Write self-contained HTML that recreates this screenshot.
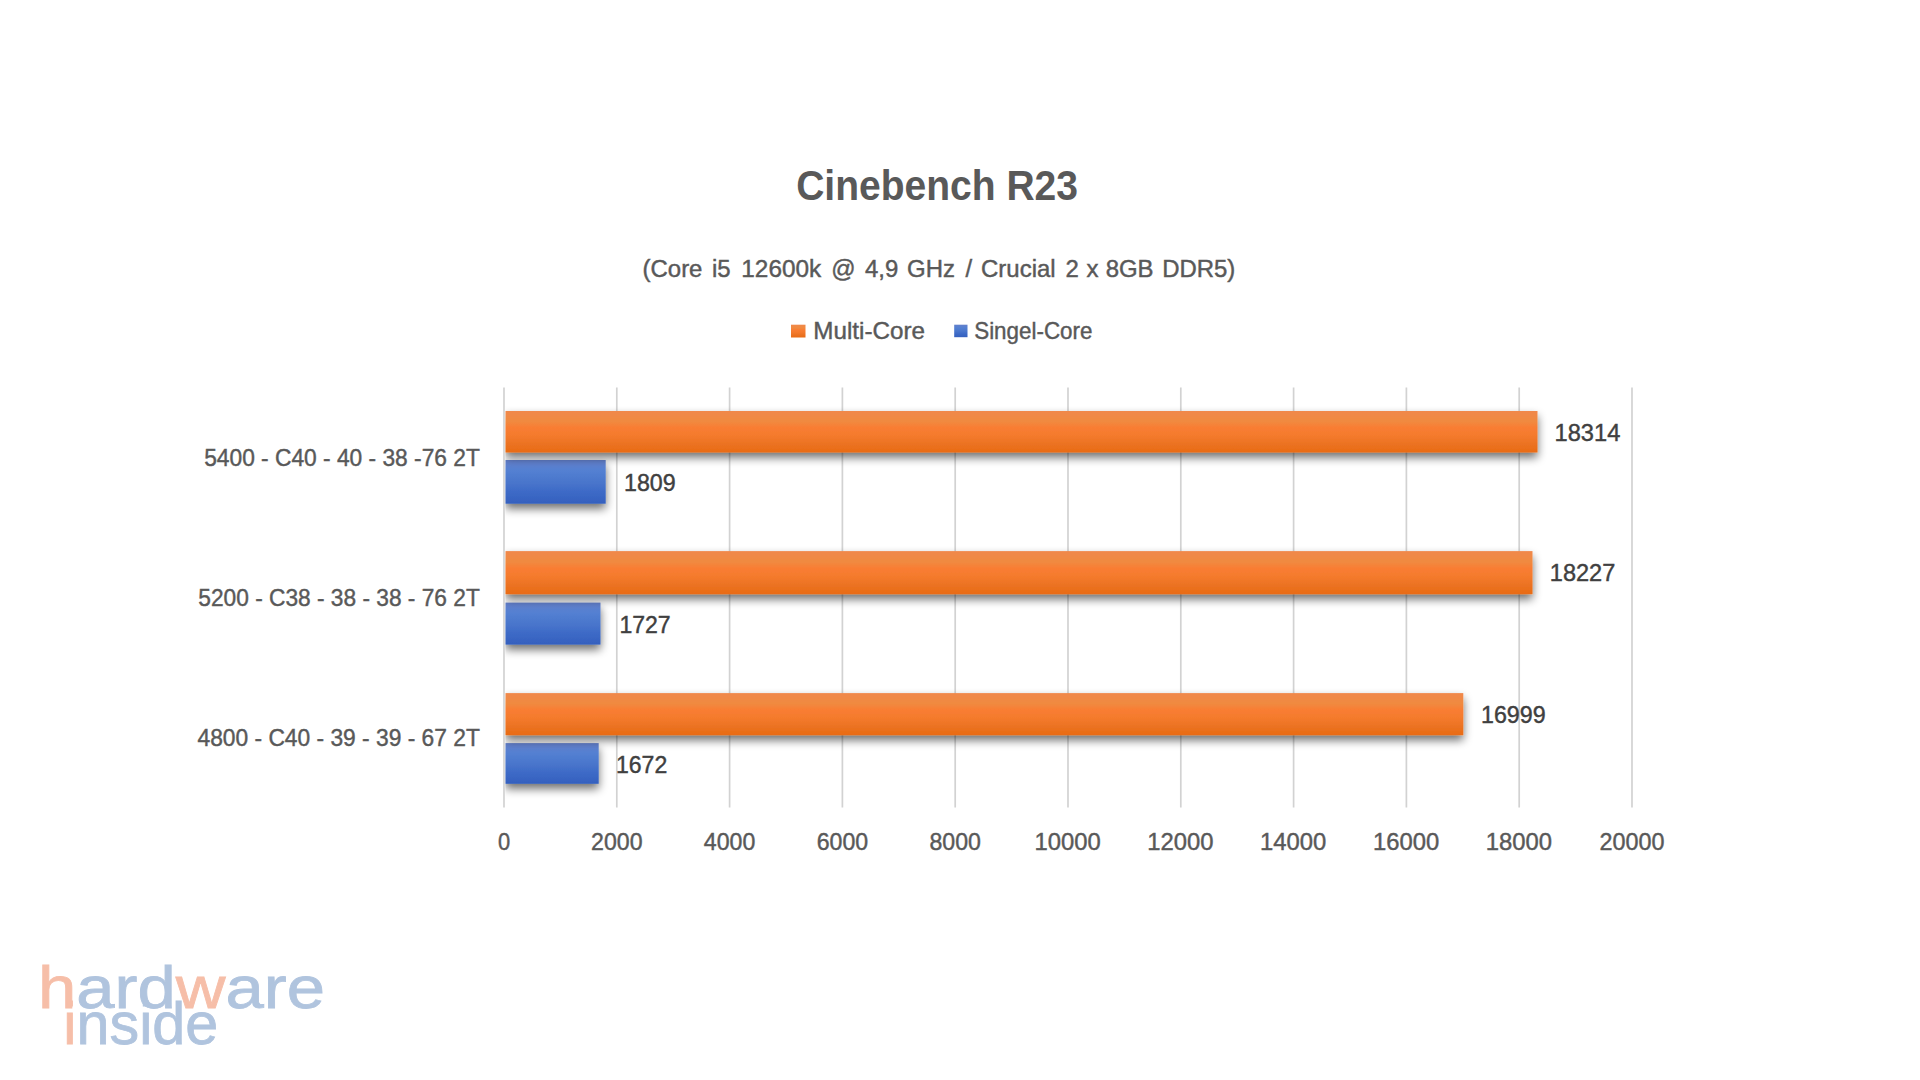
<!DOCTYPE html>
<html lang="de"><head><meta charset="utf-8"><title>Cinebench R23</title>
<style>
html,body{margin:0;padding:0;background:#fff;}
body{width:1920px;height:1080px;overflow:hidden;}
svg{display:block;font-family:"Liberation Sans",sans-serif;}
</style></head><body>
<svg width="1920" height="1080" viewBox="0 0 1920 1080">
<defs>
<linearGradient id="go" x1="0" y1="0" x2="0" y2="1">
<stop offset="0" stop-color="#f0884b"/><stop offset="0.25" stop-color="#f08a40"/><stop offset="0.4" stop-color="#f97d33"/><stop offset="0.6" stop-color="#f47a2c"/><stop offset="0.8" stop-color="#eb7222"/><stop offset="1" stop-color="#e96b12"/>
</linearGradient>
<linearGradient id="gb" x1="0" y1="0" x2="0" y2="1">
<stop offset="0" stop-color="#6480cb"/><stop offset="0.25" stop-color="#5380d2"/><stop offset="0.5" stop-color="#4a76cc"/><stop offset="0.75" stop-color="#3c69c6"/><stop offset="1" stop-color="#3560be"/>
</linearGradient>
<filter id="sh" filterUnits="userSpaceOnUse" x="470" y="380" width="1130" height="450">
<feGaussianBlur in="SourceAlpha" stdDeviation="5"/>
<feOffset dx="0" dy="4.5" result="b"/>
<feComponentTransfer><feFuncA type="linear" slope="0.57"/></feComponentTransfer>
<feMerge><feMergeNode/><feMergeNode in="SourceGraphic"/></feMerge>
</filter>
</defs>
<rect width="1920" height="1080" fill="#ffffff"/>

<g stroke="#d2d2d2" stroke-width="1.7">
<line x1="504.0" y1="387.5" x2="504.0" y2="807.5"/>
<line x1="616.8" y1="387.5" x2="616.8" y2="807.5"/>
<line x1="729.6" y1="387.5" x2="729.6" y2="807.5"/>
<line x1="842.4" y1="387.5" x2="842.4" y2="807.5"/>
<line x1="955.2" y1="387.5" x2="955.2" y2="807.5"/>
<line x1="1068.0" y1="387.5" x2="1068.0" y2="807.5"/>
<line x1="1180.8" y1="387.5" x2="1180.8" y2="807.5"/>
<line x1="1293.6" y1="387.5" x2="1293.6" y2="807.5"/>
<line x1="1406.4" y1="387.5" x2="1406.4" y2="807.5"/>
<line x1="1519.2" y1="387.5" x2="1519.2" y2="807.5"/>
<line x1="1632.0" y1="387.5" x2="1632.0" y2="807.5"/>
</g>
<clipPath id="cp"><rect x="505.3" y="380" width="1300" height="440"/></clipPath>
<g clip-path="url(#cp)">
<rect x="505.3" y="460" width="100.4" height="43.7" fill="url(#gb)" filter="url(#sh)"/>
<rect x="505.3" y="602.6" width="95.2" height="42.0" fill="url(#gb)" filter="url(#sh)"/>
<rect x="505.3" y="743.1" width="93.4" height="40.7" fill="url(#gb)" filter="url(#sh)"/>
<rect x="505.3" y="411" width="1032.2" height="41.5" fill="url(#go)" filter="url(#sh)"/>
<rect x="505.3" y="551.1" width="1027.2" height="43.1" fill="url(#go)" filter="url(#sh)"/>
<rect x="505.3" y="693.1" width="958.0" height="42.1" fill="url(#go)" filter="url(#sh)"/>
</g>
<text transform="translate(796.20,200.00) scale(0.9377,1)" font-size="41.60" fill="#595959" stroke="#595959" stroke-width="0.00" font-weight="700">Cinebench R23</text>
<g>
<text transform="translate(642.54,276.70) scale(0.9660,1)" font-size="24.80" fill="#595959" stroke="#595959" stroke-width="0.45">(Core</text>
<text transform="translate(711.93,276.70) scale(0.9660,1)" font-size="24.80" fill="#595959" stroke="#595959" stroke-width="0.45">i5</text>
<text transform="translate(741.32,276.70) scale(0.9820,1)" font-size="24.80" fill="#595959" stroke="#595959" stroke-width="0.45">12600k</text>
<text transform="translate(831.19,276.70) scale(0.9660,1)" font-size="24.80" fill="#595959" stroke="#595959" stroke-width="0.45">@</text>
<text transform="translate(865.00,276.70) scale(0.9660,1)" font-size="24.80" fill="#595959" stroke="#595959" stroke-width="0.45">4,9</text>
<text transform="translate(907.04,276.70) scale(0.9660,1)" font-size="24.80" fill="#595959" stroke="#595959" stroke-width="0.45">GHz</text>
<text transform="translate(965.42,276.70) scale(0.9660,1)" font-size="24.80" fill="#595959" stroke="#595959" stroke-width="0.45">/</text>
<text transform="translate(981.07,276.70) scale(0.9660,1)" font-size="24.80" fill="#595959" stroke="#595959" stroke-width="0.45">Crucial</text>
<text transform="translate(1065.44,276.70) scale(0.9660,1)" font-size="24.80" fill="#595959" stroke="#595959" stroke-width="0.45">2</text>
<text transform="translate(1086.51,276.70) scale(0.9660,1)" font-size="24.80" fill="#595959" stroke="#595959" stroke-width="0.45">x</text>
<text transform="translate(1105.63,276.70) scale(0.9660,1)" font-size="24.80" fill="#595959" stroke="#595959" stroke-width="0.45">8GB</text>
<text transform="translate(1162.14,276.70) scale(0.9660,1)" font-size="24.80" fill="#595959" stroke="#595959" stroke-width="0.45">DDR5)</text>
</g>
<rect x="791" y="324.7" width="14.5" height="12.8" fill="url(#go)"/>
<rect x="954.2" y="324.7" width="13.3" height="12.5" fill="url(#gb)"/>
<text transform="translate(813.30,338.70) scale(1.0395,1)" font-size="23.30" fill="#595959" stroke="#595959" stroke-width="0.42">Multi-Core</text>
<text transform="translate(974.20,338.70) scale(0.9616,1)" font-size="23.30" fill="#595959" stroke="#595959" stroke-width="0.42">Singel-Core</text>
<text transform="translate(204.20,465.80) scale(0.9768,1)" font-size="23.30" fill="#595959" stroke="#595959" stroke-width="0.42">5400 - C40 - 40 - 38 -76 2T</text>
<text transform="translate(198.30,605.80) scale(0.9753,1)" font-size="23.30" fill="#595959" stroke="#595959" stroke-width="0.42">5200 - C38 - 38 - 38 - 76 2T</text>
<text transform="translate(197.50,745.80) scale(0.9781,1)" font-size="23.30" fill="#595959" stroke="#595959" stroke-width="0.42">4800 - C40 - 39 - 39 - 67 2T</text>
<text transform="translate(1554.60,440.60) scale(1.0139,1)" font-size="23.30" fill="#404040" stroke="#404040" stroke-width="0.42">18314</text>
<text transform="translate(624.00,490.80) scale(0.9973,1)" font-size="23.30" fill="#404040" stroke="#404040" stroke-width="0.42">1809</text>
<text transform="translate(1549.80,580.80) scale(1.0108,1)" font-size="23.30" fill="#404040" stroke="#404040" stroke-width="0.42">18227</text>
<text transform="translate(619.40,632.50) scale(0.9895,1)" font-size="23.30" fill="#404040" stroke="#404040" stroke-width="0.42">1727</text>
<text transform="translate(1481.00,722.50) scale(0.9985,1)" font-size="23.30" fill="#404040" stroke="#404040" stroke-width="0.42">16999</text>
<text transform="translate(616.00,772.50) scale(0.9895,1)" font-size="23.30" fill="#404040" stroke="#404040" stroke-width="0.42">1672</text>
<text transform="translate(497.90,849.60) scale(0.9417,1)" font-size="23.30" fill="#595959" stroke="#595959" stroke-width="0.42">0</text>
<text transform="translate(591.05,849.60) scale(0.9934,1)" font-size="23.30" fill="#595959" stroke="#595959" stroke-width="0.42">2000</text>
<text transform="translate(703.85,849.60) scale(0.9934,1)" font-size="23.30" fill="#595959" stroke="#595959" stroke-width="0.42">4000</text>
<text transform="translate(816.65,849.60) scale(0.9934,1)" font-size="23.30" fill="#595959" stroke="#595959" stroke-width="0.42">6000</text>
<text transform="translate(929.45,849.60) scale(0.9934,1)" font-size="23.30" fill="#595959" stroke="#595959" stroke-width="0.42">8000</text>
<text transform="translate(1034.50,849.60) scale(1.0232,1)" font-size="23.30" fill="#595959" stroke="#595959" stroke-width="0.42">10000</text>
<text transform="translate(1147.30,849.60) scale(1.0232,1)" font-size="23.30" fill="#595959" stroke="#595959" stroke-width="0.42">12000</text>
<text transform="translate(1260.10,849.60) scale(1.0232,1)" font-size="23.30" fill="#595959" stroke="#595959" stroke-width="0.42">14000</text>
<text transform="translate(1372.90,849.60) scale(1.0232,1)" font-size="23.30" fill="#595959" stroke="#595959" stroke-width="0.42">16000</text>
<text transform="translate(1485.70,849.60) scale(1.0232,1)" font-size="23.30" fill="#595959" stroke="#595959" stroke-width="0.42">18000</text>
<text transform="translate(1599.50,849.60) scale(1.0031,1)" font-size="23.30" fill="#595959" stroke="#595959" stroke-width="0.42">20000</text>
<g font-size="60" stroke-width="0.8">
<text x="38" y="1007.5" textLength="287" lengthAdjust="spacingAndGlyphs" fill="#b0c4de" stroke="#b0c4de"><tspan fill="#f6bea8" stroke="#f6bea8">h</tspan>ard<tspan fill="#f6bea8" stroke="#f6bea8">w</tspan>are</text>
<text x="63.3" y="1044.2" textLength="155" lengthAdjust="spacingAndGlyphs" fill="#b0c4de" stroke="#b0c4de"><tspan fill="#f6bea8" stroke="#f6bea8">i</tspan>nside</text>
</g>
</svg></body></html>
